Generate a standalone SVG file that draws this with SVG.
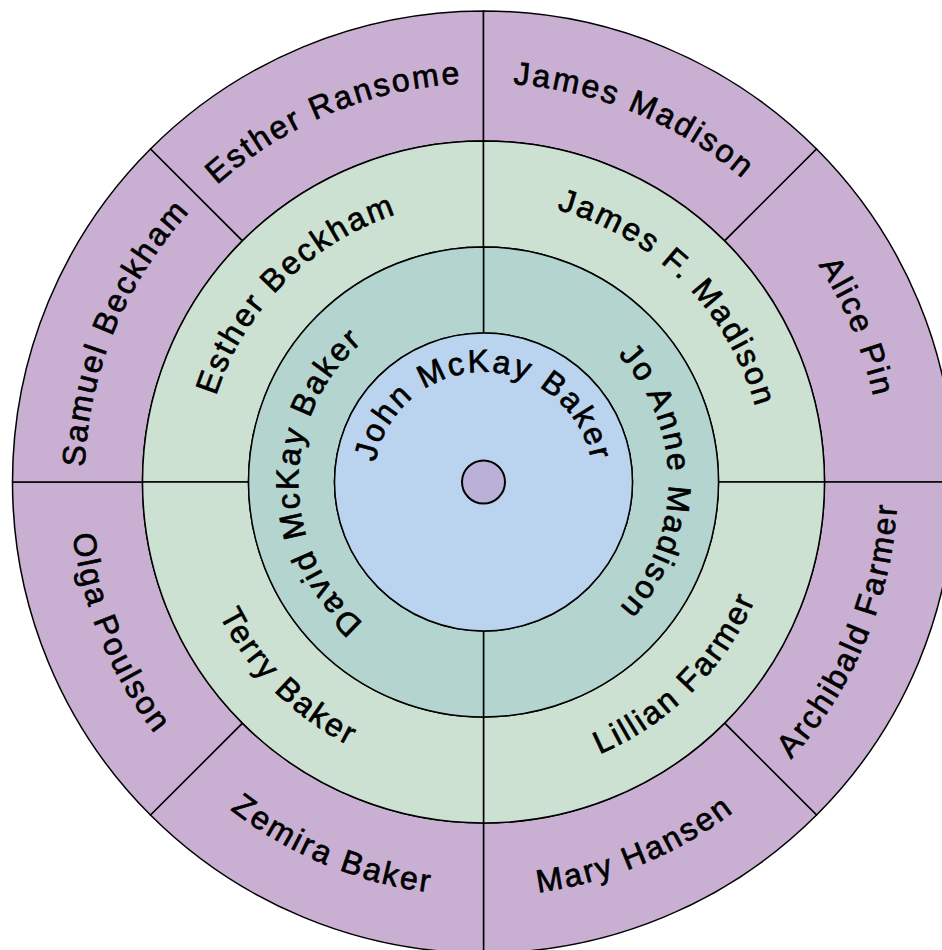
<svg xmlns="http://www.w3.org/2000/svg" width="942" height="950" viewBox="0 0 942 950">
<style>
.seg{stroke:#000;stroke-width:1.5;stroke-linejoin:round}
.g4{fill:#C9B0D3}
.g3{fill:#CCE1D1}
.g2{fill:#B4D4CF}
.g1{fill:#BAD4F0}
.dot{fill:#BAB0D8;stroke:#000;stroke-width:2}
text{font-family:"Liberation Sans",Arial,sans-serif;font-size:32px;fill:#000;stroke:#000;stroke-width:0.7px;letter-spacing:2.3px}
</style>
<defs>
<path id="p-er" d="M201.36,199.86 A399,399 0 0 1 483.5,83"/>
<path id="p-jm" d="M483.5,83 A399,399 0 0 1 765.64,199.86"/>
<path id="p-ap" d="M765.64,199.86 A399,399 0 0 1 882.5,482"/>
<path id="p-sb" d="M84.5,482 A399,399 0 0 1 201.36,199.86"/>
<path id="p-af" d="M776.24,774.74 A414,414 0 0 0 897.5,482"/>
<path id="p-mh" d="M483.5,896 A414,414 0 0 0 776.24,774.74"/>
<path id="p-zb" d="M190.76,774.74 A414,414 0 0 0 483.5,896"/>
<path id="p-op" d="M69.5,482 A414,414 0 0 0 190.76,774.74"/>
<path id="p-eb" d="M202.5,482 A282,282 0 0 1 483.5,200"/>
<path id="p-jfm" d="M483.5,200 A282,282 0 0 1 765.5,482"/>
<path id="p-lf" d="M483.5,778 A296,296 0 0 0 779.5,482"/>
<path id="p-tb" d="M187.5,482 A296,296 0 0 0 483.5,778"/>
<path id="p-jam" d="M483.5,297 A185,185 0 0 1 668.5,482 A185,185 0 0 1 483.5,667"/>
<path id="p-dmb" d="M483.5,667 A185,185 0 0 1 298.5,482 A185,185 0 0 1 483.5,297"/>
<path id="p-jmb" d="M373.5,482 A110,110 0 0 1 483.5,372 A110,110 0 0 1 593.5,482"/>
</defs>

<g id="esther-ransome">
<path class="seg g4" d="M150.45,148.95 A471,471 0 0 1 483.5,11 L483.5,141 A341,341 0 0 0 242.38,240.88 Z"/>
<text><textPath href="#p-er" startOffset="50%" text-anchor="middle">Esther Ransome</textPath></text>
</g>
<g id="james-madison">
<path class="seg g4" d="M483.5,11 A471,471 0 0 1 816.55,148.95 L724.62,240.88 A341,341 0 0 0 483.5,141 Z"/>
<text><textPath href="#p-jm" startOffset="50%" text-anchor="middle">James Madison</textPath></text>
</g>
<g id="alice-pin">
<path class="seg g4" d="M816.55,148.95 A471,471 0 0 1 954.5,482 L824.5,482 A341,341 0 0 0 724.62,240.88 Z"/>
<text><textPath href="#p-ap" startOffset="50%" text-anchor="middle">Alice Pin</textPath></text>
</g>
<g id="archibald-farmer">
<path class="seg g4" d="M954.5,482 A471,471 0 0 1 816.55,815.05 L724.62,723.12 A341,341 0 0 0 824.5,482 Z"/>
<text><textPath href="#p-af" startOffset="50%" text-anchor="middle">Archibald Farmer</textPath></text>
</g>
<g id="mary-hansen">
<path class="seg g4" d="M816.55,815.05 A471,471 0 0 1 483.5,953 L483.5,823 A341,341 0 0 0 724.62,723.12 Z"/>
<text><textPath href="#p-mh" startOffset="50%" text-anchor="middle">Mary Hansen</textPath></text>
</g>
<g id="zemira-baker">
<path class="seg g4" d="M483.5,953 A471,471 0 0 1 150.45,815.05 L242.38,723.12 A341,341 0 0 0 483.5,823 Z"/>
<text><textPath href="#p-zb" startOffset="50%" text-anchor="middle">Zemira Baker</textPath></text>
</g>
<g id="olga-poulson">
<path class="seg g4" d="M150.45,815.05 A471,471 0 0 1 12.5,482 L142.5,482 A341,341 0 0 0 242.38,723.12 Z"/>
<text><textPath href="#p-op" startOffset="50%" text-anchor="middle">Olga Poulson</textPath></text>
</g>
<g id="samuel-beckham">
<path class="seg g4" d="M12.5,482 A471,471 0 0 1 150.45,148.95 L242.38,240.88 A341,341 0 0 0 142.5,482 Z"/>
<text><textPath href="#p-sb" startOffset="50%" text-anchor="middle">Samuel Beckham</textPath></text>
</g>

<g id="esther-beckham">
<path class="seg g3" d="M142.5,482 A341,341 0 0 1 483.5,141 L483.5,247 A235,235 0 0 0 248.5,482 Z"/>
<text><textPath href="#p-eb" startOffset="50%" text-anchor="middle">Esther Beckham</textPath></text>
</g>
<g id="james-f-madison">
<path class="seg g3" d="M483.5,141 A341,341 0 0 1 824.5,482 L718.5,482 A235,235 0 0 0 483.5,247 Z"/>
<text><textPath href="#p-jfm" startOffset="50%" text-anchor="middle">James F. Madison</textPath></text>
</g>
<g id="lillian-farmer">
<path class="seg g3" d="M824.5,482 A341,341 0 0 1 483.5,823 L483.5,717 A235,235 0 0 0 718.5,482 Z"/>
<text><textPath href="#p-lf" startOffset="50%" text-anchor="middle">Lillian Farmer</textPath></text>
</g>
<g id="terry-baker">
<path class="seg g3" d="M483.5,823 A341,341 0 0 1 142.5,482 L248.5,482 A235,235 0 0 0 483.5,717 Z"/>
<text><textPath href="#p-tb" startOffset="50%" text-anchor="middle">Terry Baker</textPath></text>
</g>

<g id="jo-anne-madison">
<path class="seg g2" d="M483.5,247 A235,235 0 0 1 718.5,482 A235,235 0 0 1 483.5,717 L483.5,631 A149,149 0 0 0 632.5,482 A149,149 0 0 0 483.5,333 Z"/>
<text><textPath href="#p-jam" startOffset="50%" text-anchor="middle">Jo Anne Madison</textPath></text>
</g>
<g id="david-mckay-baker">
<path class="seg g2" d="M483.5,717 A235,235 0 0 1 248.5,482 A235,235 0 0 1 483.5,247 L483.5,333 A149,149 0 0 0 334.5,482 A149,149 0 0 0 483.5,631 Z"/>
<text><textPath href="#p-dmb" startOffset="50%" text-anchor="middle">David McKay Baker</textPath></text>
</g>

<g id="john-mckay-baker">
<circle class="seg g1" cx="483.5" cy="482" r="149"/>
<text><textPath href="#p-jmb" startOffset="50%" text-anchor="middle">John McKay Baker</textPath></text>
</g>
<g id="center">
<circle class="dot" cx="483.5" cy="482" r="21.5"/>
</g>
<g id="connectors"></g>
</svg>
